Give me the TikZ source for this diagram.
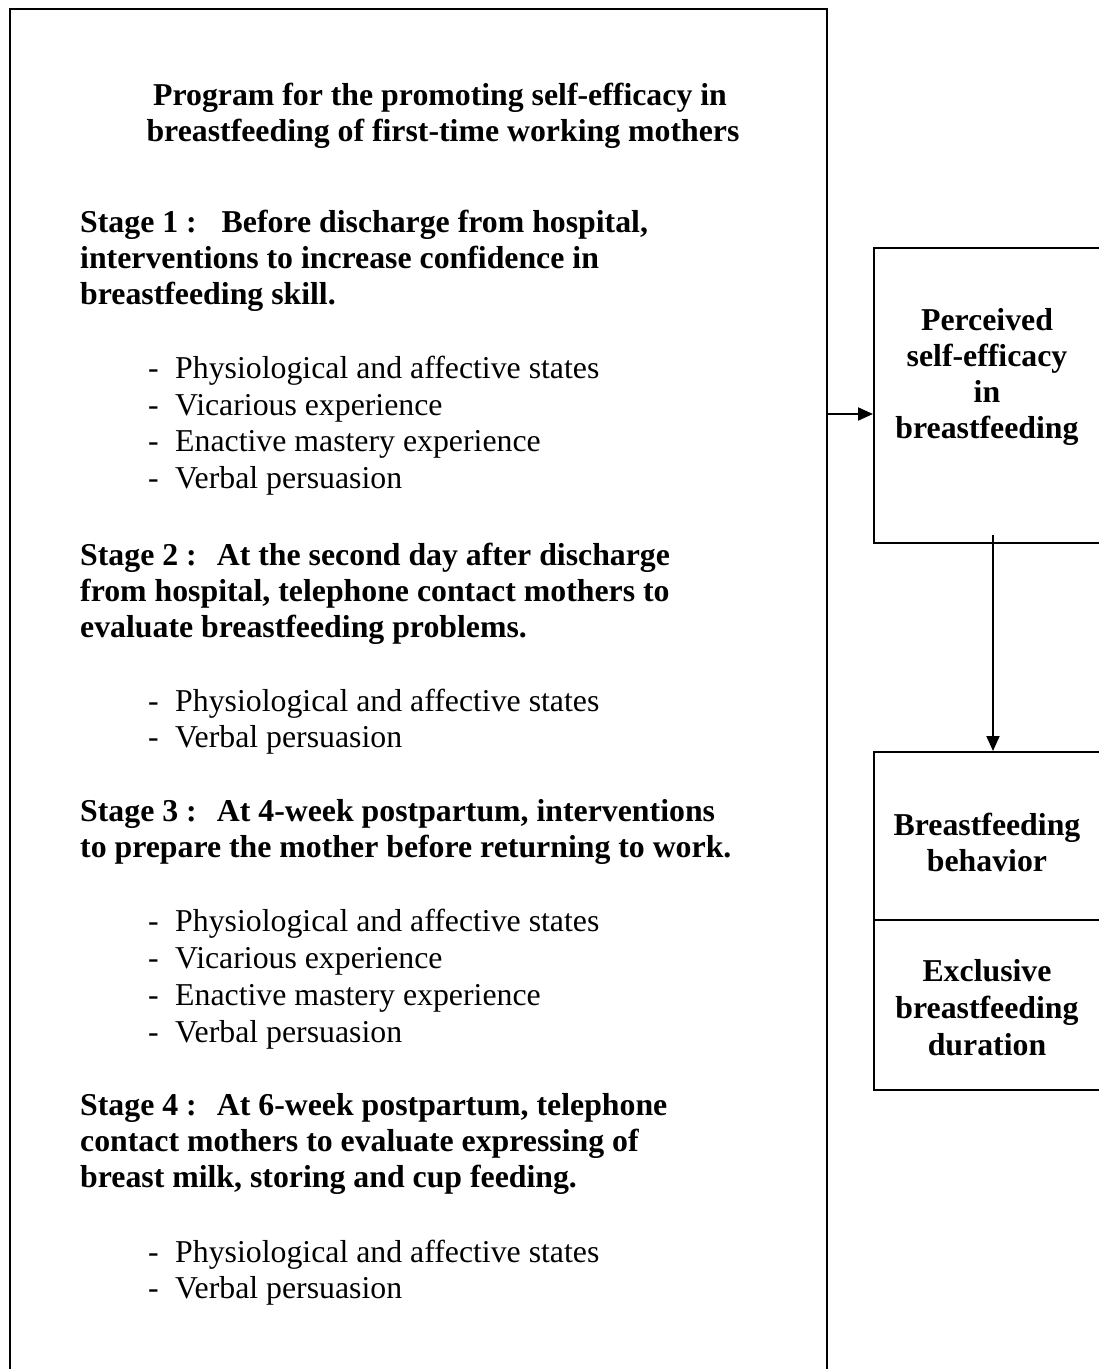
\documentclass[tikz,border=0pt]{standalone}
\usepackage{fontspec}
\setmainfont{Liberation Serif}
\usetikzlibrary{arrows.meta}
\newcommand{\fsz}{\fontsize{31.8}{36}\selectfont}
\begin{document}
\begin{tikzpicture}[x=1pt,y=-1pt,
  bt/.style={anchor=base west, inner sep=0pt, font=\fsz\bfseries},
  nt/.style={anchor=base west, inner sep=0pt, font=\fsz},
  ct/.style={anchor=base, inner sep=0pt, font=\fsz\bfseries},
  boxst/.style={draw, line width=2pt, anchor=north west, inner sep=0pt},
  arr/.style={line width=2pt, -{Triangle[length=15pt,width=13pt]}}]
\useasboundingbox (0,0) rectangle (1099,1369);
% boxes
\node[boxst, minimum width=817pt, minimum height=1400pt] (prog) at (9,8) {};
\node[boxst, minimum width=250pt, minimum height=295pt] (pse) at (873,247) {};
\node[boxst, minimum width=250pt, minimum height=168pt] (beh) at (873,751) {};
\node[boxst, minimum width=250pt, minimum height=170pt] (ebd) at (873,919) {};
% title
\node[ct] (t1) at (440,105) {Program for the promoting self-efficacy in};
\node[ct] (t2) at (443,141) {breastfeeding of first-time working mothers};
% stage 1
\node[bt] (s1a) at (80,232) {Stage 1 :\hspace{0.45em} Before discharge from hospital,};
\node[bt] (s1b) at (80,268) {interventions to increase confidence in};
\node[bt] (s1c) at (80,304) {breastfeeding skill.};
\node[nt] (d1a) at (148,378) {-}; \node[nt] (b1a) at (175,378) {Physiological and affective states};
\node[nt] (d1b) at (148,415) {-}; \node[nt] (b1b) at (175,415) {Vicarious experience};
\node[nt] (d1c) at (148,451) {-}; \node[nt] (b1c) at (175,451) {Enactive mastery experience};
\node[nt] (d1d) at (148,488) {-}; \node[nt] (b1d) at (175,488) {Verbal persuasion};
% stage 2
\node[bt] (s2a) at (80,565) {Stage 2 :\hspace{0.3em} At the second day after discharge};
\node[bt] (s2b) at (80,601) {from hospital, telephone contact mothers to};
\node[bt] (s2c) at (80,637) {evaluate breastfeeding problems.};
\node[nt] (d2a) at (148,711) {-}; \node[nt] (b2a) at (175,711) {Physiological and affective states};
\node[nt] (d2b) at (148,747) {-}; \node[nt] (b2b) at (175,747) {Verbal persuasion};
% stage 3
\node[bt] (s3a) at (80,821) {Stage 3 :\hspace{0.3em} At 4-week postpartum, interventions};
\node[bt] (s3b) at (80,857) {to prepare the mother before returning to work.};
\node[nt] (d3a) at (148,931) {-}; \node[nt] (b3a) at (175,931) {Physiological and affective states};
\node[nt] (d3b) at (148,968) {-}; \node[nt] (b3b) at (175,968) {Vicarious experience};
\node[nt] (d3c) at (148,1005) {-}; \node[nt] (b3c) at (175,1005) {Enactive mastery experience};
\node[nt] (d3d) at (148,1042) {-}; \node[nt] (b3d) at (175,1042) {Verbal persuasion};
% stage 4
\node[bt] (s4a) at (80,1115) {Stage 4 :\hspace{0.3em} At 6-week postpartum, telephone};
\node[bt] (s4b) at (80,1151) {contact mothers to evaluate expressing of};
\node[bt] (s4c) at (80,1187) {breast milk, storing and cup feeding.};
\node[nt] (d4a) at (148,1262) {-}; \node[nt] (b4a) at (175,1262) {Physiological and affective states};
\node[nt] (d4b) at (148,1298) {-}; \node[nt] (b4b) at (175,1298) {Verbal persuasion};
% right texts
\node[ct] (p1) at (987,330) {Perceived};
\node[ct] (p2) at (987,366) {self-efficacy};
\node[ct] (p3) at (987,402) {in};
\node[ct] (p4) at (987,438) {breastfeeding};
\node[ct] (h1) at (987,835) {Breastfeeding};
\node[ct] (h2) at (987,871) {behavior};
\node[ct] (e1) at (987,981) {Exclusive};
\node[ct] (e2) at (987,1018) {breastfeeding};
\node[ct] (e3) at (987,1055) {duration};
% connectors
\coordinate (ay) at (0,414);
\draw[arr] (prog.east |- ay) -- (pse.west |- ay);
\coordinate (vx) at (993,535);
\draw[arr] (vx) -- (beh.north -| vx);
\end{tikzpicture}
\end{document}
